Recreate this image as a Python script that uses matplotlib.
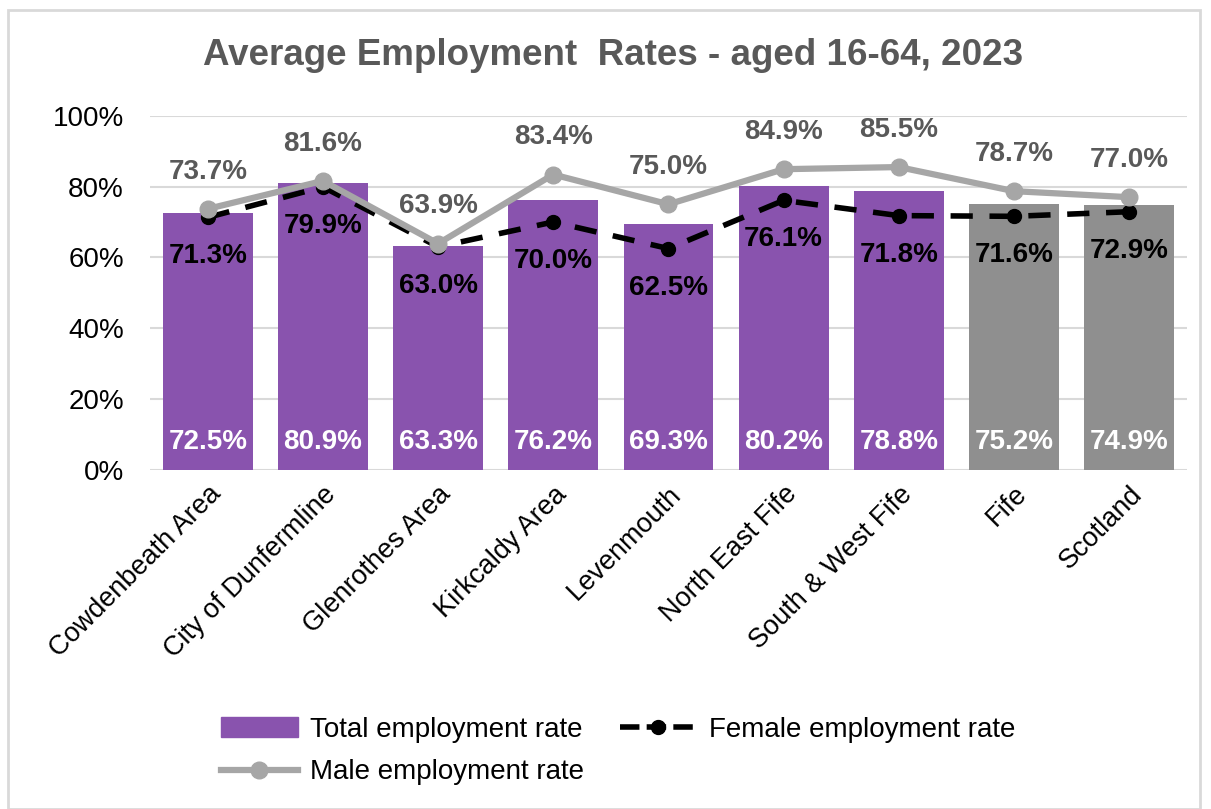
import numpy as np
import matplotlib.pyplot as plt
from matplotlib.patches import Rectangle
from matplotlib.lines import Line2D

plt.rcParams['font.family'] = ['Liberation Sans', 'DejaVu Sans']

areas = ["Cowdenbeath Area", "City of Dunfermline", "Glenrothes Area", "Kirkcaldy Area",
         "Levenmouth", "North East Fife", "South & West Fife", "Fife", "Scotland"]
total = [72.5, 80.9, 63.3, 76.2, 69.3, 80.2, 78.8, 75.2, 74.9]
female = [71.3, 79.9, 63.0, 70.0, 62.5, 76.1, 71.8, 71.6, 72.9]
male = [73.7, 81.6, 63.9, 83.4, 75.0, 84.9, 85.5, 78.7, 77.0]

purple = "#8953AE"
grey_bar = "#8F8F8F"
grey_line = "#A6A6A6"
text_grey = "#595959"

fig = plt.figure(figsize=(12.11, 8.09), dpi=100)
# outer chart frame
fig.patches.append(Rectangle((8/1211, 0), 1192/1211, 1 - 10/809, transform=fig.transFigure,
                             fill=False, edgecolor="#D9D9D9", linewidth=2))
ax = fig.add_axes([0.124, 0.419, 0.856, 0.438])

x = np.arange(len(areas))
colors = [purple] * 7 + [grey_bar] * 2
ax.bar(x, total, width=0.78, color=colors, zorder=2)
ax.plot(x, female, color="black", linestyle=(0, (4, 3)), linewidth=4, marker="o",
        markersize=10, zorder=3)
ax.plot(x, male, color=grey_line, linewidth=4.5, marker="o", markersize=12, zorder=4)

for i in x:
    ax.text(i, 8, f"{total[i]:.1f}%", ha="center", va="center", color="white",
            fontsize=20, fontweight="bold", zorder=5)
    ax.text(i, male[i] + 10.5, f"{male[i]:.1f}%", ha="center", va="center", color=text_grey,
            fontsize=20, fontweight="bold", zorder=5)
    ax.text(i, female[i] - 11, f"{female[i]:.1f}%", ha="center", va="center", color="black",
            fontsize=20, fontweight="bold", zorder=5)

ax.set_xlim(-0.5, len(areas) - 0.5)
ax.set_ylim(0, 100)
ax.set_yticks(range(0, 101, 20))
ax.set_yticklabels([f"{v}%" for v in range(0, 101, 20)], fontsize=20)
ax.set_xticks(x)
ax.set_xticklabels(areas, rotation=45, ha="right", rotation_mode="anchor", fontsize=19.5)
ax.tick_params(axis="x", length=0, pad=8)
ax.tick_params(axis="y", length=0, pad=19)
ax.grid(axis="y", color="#D9D9D9", linewidth=1.5, zorder=0)
for s in ax.spines.values():
    s.set_visible(False)

fig.text(0.506, 0.932, "Average Employment  Rates - aged 16-64, 2023", ha="center", va="center",
         fontsize=26.5, fontweight="bold", color=text_grey)

handles = [
    Rectangle((0, 0), 1, 1, color=purple),
    Line2D([], [], color=grey_line, linewidth=4.5, marker="o", markersize=12),
    Line2D([], [], color="black", linestyle=(0, (3.5, 1.3)), linewidth=4, marker="o", markersize=10),
]
labels = ["Total employment rate", "Male employment rate", "Female employment rate"]
fig.legend(handles, labels, ncol=2, loc="upper left", bbox_to_anchor=(0.162, 0.145),
           frameon=False, fontsize=20, handlelength=2.75, columnspacing=1.3, labelspacing=0.6,
           handletextpad=0.45)

fig.savefig("out.png", dpi=100)
